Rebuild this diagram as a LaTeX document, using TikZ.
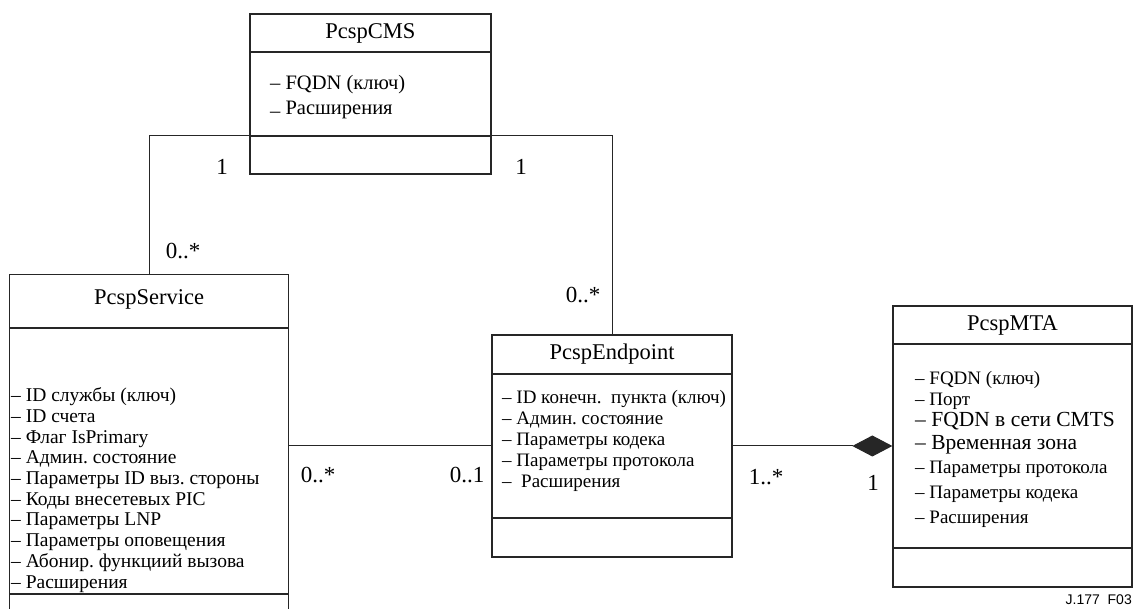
\documentclass[tikz,border=0pt]{standalone}
\usepackage{fontspec}
\setmainfont{Liberation Serif}
\newfontfamily\labelfont{Liberation Sans}
\usetikzlibrary{arrows.meta,positioning}
\frenchspacing

\tikzset{
  boxline/.style={draw=black!85, line width=1.3pt},
  classbox/.style={boxline, inner sep=0pt},
  divider/.style={draw=black!85, line width=1.8pt},
  assoc/.style={draw=black!85, line width=1pt},
  ctitle/.style={font=\fontsize{22.5}{26}\selectfont, inner sep=0pt},
  attrs/.style={font=\fontsize{19.5}{20.7}\selectfont, align=left, anchor=west, inner sep=0pt},
  mult/.style={font=\fontsize{23}{27}\selectfont, inner sep=0pt}
}

\begin{document}
\begin{tikzpicture}[x=1pt, y=-1pt]
    \useasboundingbox (0,0) rectangle (1136,609);

    % Classes {cms, service, endpoint, mta}
    \node [classbox, minimum width=241pt, minimum height=160pt] (cms)      at (370.5,94)   {};
    \node [classbox, draw=none, minimum width=278pt, minimum height=334pt] (service) at (149,442) {};
    \node [classbox, minimum width=240pt, minimum height=222pt] (endpoint) at (612,446)    {};
    \node [classbox, minimum width=239pt, minimum height=281pt] (mta)      at (1012.5,446.5) {};
    \draw [boxline] (service.south west) |- (service.north east) -- (service.south east);

    % Dividers
    \draw [divider] ([yshift=-39pt]cms.north west)      -- ([yshift=-39pt]cms.north east);
    \draw [divider] ([yshift=39pt]cms.south west)       -- ([yshift=39pt]cms.south east);
    \draw [divider] ([yshift=-54pt]service.north west)  -- ([yshift=-54pt]service.north east);
    \draw [divider] ([yshift=16pt]service.south west)   -- ([yshift=16pt]service.south east);
    \draw [divider] ([yshift=-40pt]endpoint.north west) -- ([yshift=-40pt]endpoint.north east);
    \draw [divider] ([yshift=40pt]endpoint.south west)  -- ([yshift=40pt]endpoint.south east);
    \draw [divider] ([yshift=-39pt]mta.north west)      -- ([yshift=-39pt]mta.north east);
    \draw [divider] ([yshift=40pt]mta.south west)       -- ([yshift=40pt]mta.south east);

    % Titles
    \node [ctitle] (cms-title)      at ([yshift=-20.5pt]cms.north)      {PcspCMS};
    \node [ctitle] (service-title)  at ([yshift=-25pt]service.north)    {PcspService};
    \node [ctitle] (endpoint-title) at ([yshift=-20pt]endpoint.north)   {PcspEndpoint};
    \node [ctitle] (mta-title)      at ([yshift=-20pt]mta.north)        {PcspMTA};

    % Attributes
    \node [attrs, font=\fontsize{20.5}{25}\selectfont] (cms-attrs) at (270,97)
        {– FQDN (ключ)\\\raisebox{-3pt}{–} Расширения};
    \node [attrs] (service-attrs) at (11,490)
        {– ID службы (ключ)\\– ID счета\\– Флаг IsPrimary\\– Админ. состояние\\
         – Параметры ID выз. стороны\\– Коды внесетевых PIC\\– Параметры LNP\\
         – Параметры оповещения\\– Абонир. функциий вызова\\– Расширения};
    \node [attrs, font=\fontsize{19}{21}\selectfont] (endpoint-attrs) at (502,441)
        {– ID конечн.\ \ пункта (ключ)\\– Админ. состояние\\– Параметры кодека\\
         – Параметры протокола\\–\ \ Расширения};
    \node [attrs, font=\fontsize{19}{21}\selectfont] (mta-a1) at (915,380) {– FQDN (ключ)};
    \node [attrs, font=\fontsize{19}{21}\selectfont] (mta-a2) at (915,401) {– Порт};
    \node [attrs, font=\fontsize{21.5}{24}\selectfont] (mta-a3) at (915,421) {– FQDN в сети CMTS};
    \node [attrs, font=\fontsize{21.5}{24}\selectfont] (mta-a4) at (915,445) {– Временная зона};
    \node [attrs, font=\fontsize{19}{21}\selectfont] (mta-a5) at (915,469) {– Параметры протокола};
    \node [attrs, font=\fontsize{19}{21}\selectfont] (mta-a6) at (915,494) {– Параметры кодека};
    \node [attrs, font=\fontsize{19}{21}\selectfont] (mta-a7) at (915,519) {– Расширения};

    % Associations
    \coordinate (cms-sep-w) at ([yshift=39pt]cms.south west);
    \coordinate (cms-sep-e) at ([yshift=39pt]cms.south east);
    \draw [assoc] (service.north) |- (cms-sep-w);
    \draw [assoc] (cms-sep-e) -| (endpoint.north);
    \draw [assoc] (service.east |- endpoint.west) -- (endpoint.west);
    \draw [assoc, -{Diamond[length=40pt, width=21pt]}] (endpoint.east) -- (endpoint.east -| mta.west);

    % Multiplicities
    \node [mult] (m-cms-s)  at (222,167) {1};
    \node [mult] (m-cms-e)  at (521,167) {1};
    \node [mult] (m-srv-c)  at (183,251) {0..*};
    \node [mult] (m-end-c)  at (583,295) {0..*};
    \node [mult] (m-srv-e)  at (318,475) {0..*};
    \node [mult] (m-end-s)  at (467,475) {0..1};
    \node [mult] (m-end-m)  at (766,477) {1..*};
    \node [mult] (m-mta-e)  at (873,483) {1};

    \node [anchor=east, inner sep=0pt, font=\labelfont\fontsize{14}{16}\selectfont] (fig-id) at (1132,600) {J.177\ \ F03};
\end{tikzpicture}
\end{document}
